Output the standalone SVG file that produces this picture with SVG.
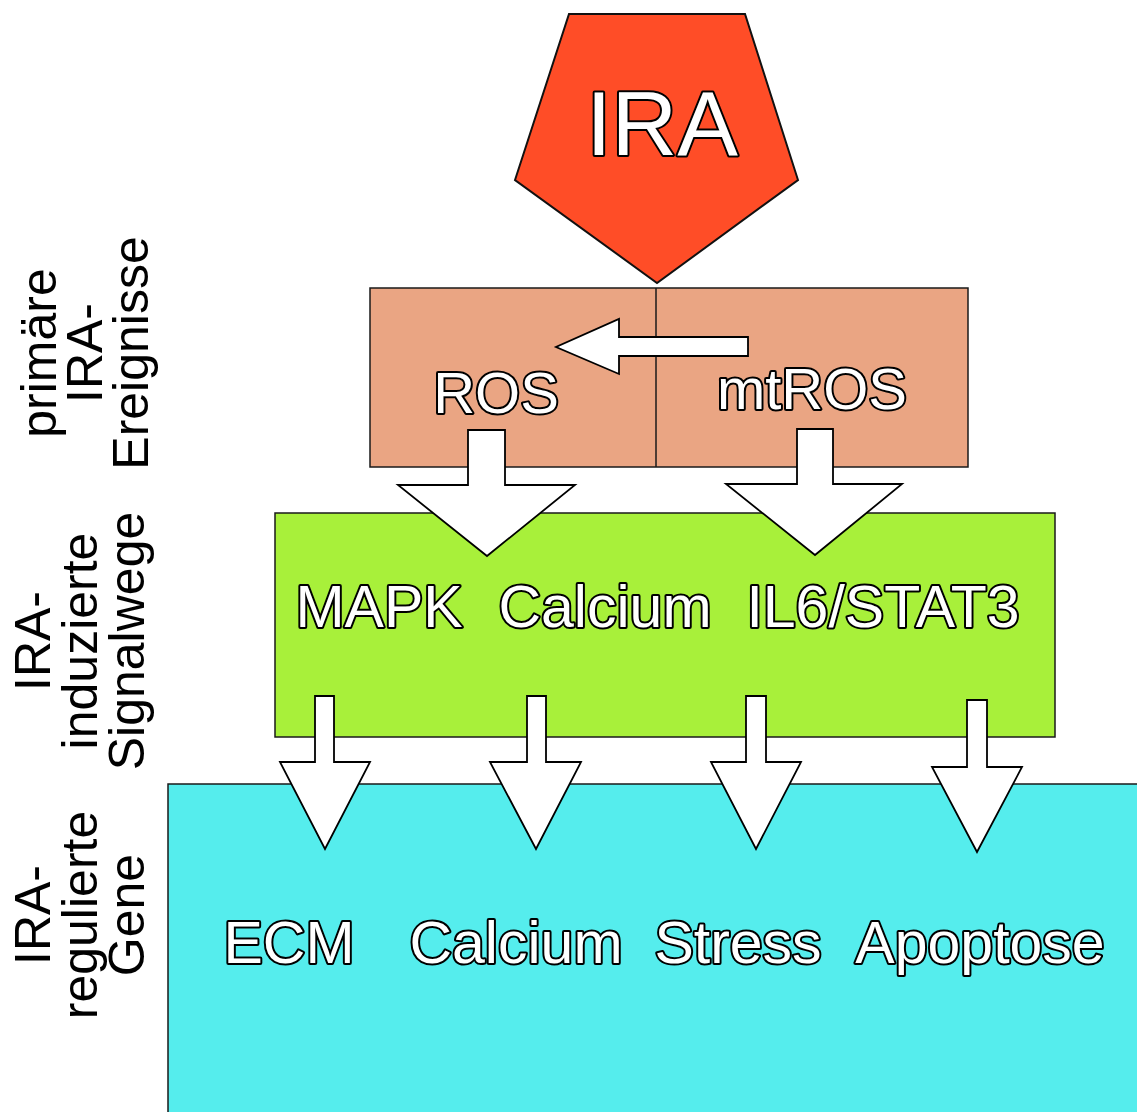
<svg xmlns="http://www.w3.org/2000/svg" width="1137" height="1112" viewBox="0 0 1137 1112">
<style>
.box{stroke:#1a1a1a;stroke-width:1.5}
.arr{fill:#fff;stroke:#000;stroke-width:1.8;stroke-linejoin:miter}
.t{font-family:"Liberation Sans",Arial,sans-serif;fill:#fff;stroke:#000;stroke-width:4;paint-order:stroke;stroke-linejoin:round;text-anchor:middle}
.lab{font-family:"Liberation Sans",Arial,sans-serif;font-size:50px;fill:#000;text-anchor:middle}
</style>
<rect width="1137" height="1112" fill="#fff"/>
<g id="labels">
<g transform="translate(56,353) rotate(-90)" class="lab"><text x="0" y="0">primäre</text><text x="0" y="46">IRA-</text><text x="0" y="92">Ereignisse</text></g>
<g transform="translate(50,641) rotate(-90)" class="lab"><text x="0" y="0">IRA-</text><text x="0" y="47">induzierte</text><text x="0" y="94">Signalwege</text></g>
<g transform="translate(50,915) rotate(-90)" class="lab"><text x="0" y="0">IRA-</text><text x="0" y="47">regulierte</text><text x="0" y="94">Gene</text></g>
</g>
<g id="genes">
<rect class="box" x="168" y="784" width="980" height="340" fill="#55EDED"/>
<text class="t" font-size="59" x="289" y="963">ECM</text>
<text class="t" font-size="59" x="516" y="963">Calcium</text>
<text class="t" font-size="59" x="738" y="963">Stress</text>
<text class="t" font-size="59" x="980" y="963">Apoptose</text>
</g>
<g id="pathways">
<rect class="box" x="275" y="513" width="780" height="224" fill="#A8F03A"/>
<text class="t" font-size="59" x="379" y="627">MAPK</text>
<text class="t" font-size="59" x="605" y="627">Calcium</text>
<text class="t" font-size="59" x="883" y="627">IL6/STAT3</text>
</g>
<g id="primary">
<rect class="box" x="370" y="288" width="598" height="179" fill="#EAA583"/>
<line x1="656" y1="288" x2="656" y2="467" stroke="#1a1a1a" stroke-width="1.5"/>
<text class="t" font-size="58" x="496" y="413">ROS</text>
<text class="t" font-size="58" x="812" y="409">mtROS</text>
</g>
<g id="ira">
<polygon points="569,14 745,14 798,180 657,283 515,180" fill="#FF4D27" stroke="#111" stroke-width="2"/>
<text class="t" font-size="91" x="662" y="155">IRA</text>
</g>
<g id="connectors">
<polygon class="arr" points="748,337 619,337 619,319 556,347 619,374 619,356 748,356"/>
<polygon class="arr" points="468,430 505,430 505,485 575,485 487,556 398,485 468,485"/>
<polygon class="arr" points="797,429 833,429 833,484 902,484 815,555 726,484 797,484"/>
<polygon class="arr" points="315,696 334,696 334,762 370,762 325,849 280,762 315,762"/>
<polygon class="arr" points="527,696 546,696 546,762 581,762 536,849 490,762 527,762"/>
<polygon class="arr" points="746,696 766,696 766,762 801,762 756,849 711,762 746,762"/>
<polygon class="arr" points="967,700 987,700 987,767 1022,767 977,852 932,767 967,767"/>
</g>
</svg>
